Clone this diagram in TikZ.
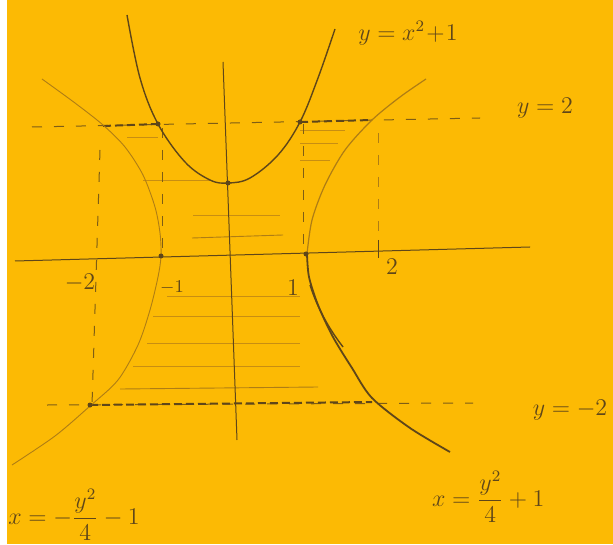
\documentclass[tikz,border=0pt]{standalone}
\usepackage{amsmath}
\usetikzlibrary{calc}
\definecolor{paper}{RGB}{252,186,4}
\definecolor{pencil}{RGB}{95,70,25}
\definecolor{faint}{RGB}{175,125,20}
\definecolor{hatchc}{RGB}{200,142,18}
\tikzset{
  curve/.style={pencil,line width=0.7pt},
  thin curve/.style={faint,line width=0.45pt},
  axisline/.style={pencil,line width=0.5pt},
  guide/.style={pencil!80!paper,line width=0.5pt,dash pattern=on 5pt off 6pt},
  bold guide/.style={pencil,line width=1pt,dash pattern=on 4pt off 2pt},
  hatch/.style={hatchc,line width=0.4pt},
  pt dot/.style={circle,fill=pencil,inner sep=0pt,minimum size=2.5pt},
  lbl/.style={pencil,font=\large}
}
\begin{document}
\begin{tikzpicture}[x=0.5pt,y=-0.5pt]
\fill[paper] (0,0) rectangle (613,544);
\fill[white] (0,0) rectangle (7,544);
\useasboundingbox (0,0) rectangle (613,544);

% hatching
\foreach \ya/\xa/\xb in {137/127/158,180/143/210,215/193/280,296/167/300,316/153/300,343/147/300,366/133/300,130/300/345,143/300/338,160/300/330}
  \draw[hatch] (\xa,\ya) -- (\xb,\ya);
\draw[faint,line width=0.45pt] (192,238) -- (283,235);
\draw[faint,line width=0.45pt] (120,389) -- (318,387);

% axes
\coordinate (xl) at (15,261); \coordinate (xr) at (530,247);
\coordinate (yt) at (223,62); \coordinate (yb) at (237,440);
\draw[axisline] (xl) -- (xr);
\draw[axisline] (yt) -- (yb);

% guide lines
\coordinate (a1) at (32,127); \coordinate (a2) at (480,118);
\draw[guide] (a1) -- (a2);
\coordinate (b1) at (47,405); \coordinate (b2) at (473,403);
\draw[guide] (b1) -- (b2);
\draw[bold guide] (103,126) -- (158,124);
\draw[bold guide] (300,122) -- (372,120);
\draw[bold guide] (90,405) -- (372,402);
\draw[guide] (100,150) -- (92,405);
\draw[guide] (162,128) -- (162,255);
\draw[guide] (303,124) -- (303,254);
\draw[guide,faint] (378,133) -- (378,246);
\draw[axisline] (378,240) -- (378,258);

% parabola y = x^2+1
\draw[curve] plot[smooth,tension=0.6] coordinates {(127,15) (140,78) (158,124) (185,162) (210,180) (228,183) (250,178) (278,155) (300,122) (318,78) (335,29)};

% left hyperbola
\draw[thin curve] plot[smooth] coordinates {(42,79) (75,103) (103,125) (125,147) (143,175) (155,207) (160,233) (161,256) (158,277) (150,310) (138,345) (118,380) (90,406) (55,436) (12,465)};

% right hyperbola
\draw[thin curve,line width=0.6pt] plot[smooth] coordinates {(426,79) (400,97) (372,120) (345,150) (325,185) (312,220) (307,254)};
\draw[curve,line width=0.9pt] plot[smooth] coordinates {(307,254) (309,277) (318,305) (333,337) (352,368) (372,398) (410,428) (450,452)};
\draw[curve] (310,285) .. controls (318,310) and (330,330) .. (343,347);

% points
\node[pt dot] (p1) at (158,124) {};
\node[pt dot] (p2) at (300,122) {};
\node[pt dot] (p3) at (161,256) {};
\node[pt dot] (p4) at (306,254) {};
\node[pt dot] (p5) at (228,183) {};
\node[pt dot] (p6) at (90,405) {};

% labels
\node[lbl] (l1) at (408,33) {$y=x^2\!+\!1$};
\node[lbl] (l2) at (545,108) {$y=2$};
\node[lbl] (l3) at (570,410) {$y=-2$};
\node[lbl] (l4) at (80,283) {$-2$};
\node[lbl,font=\small] (l5) at (172,288) {$-1$};
\node[lbl] (l6) at (293,288) {$1$};
\node[lbl] (l7) at (392,267) {$2$};
\node[lbl,anchor=west,inner sep=0pt] (l8) at (8,515) {$x=-\dfrac{y^2}{4}-1$};
\node[lbl,anchor=west] (l9) at (425,497) {$x=\dfrac{y^2}{4}+1$};
\end{tikzpicture}
\end{document}
